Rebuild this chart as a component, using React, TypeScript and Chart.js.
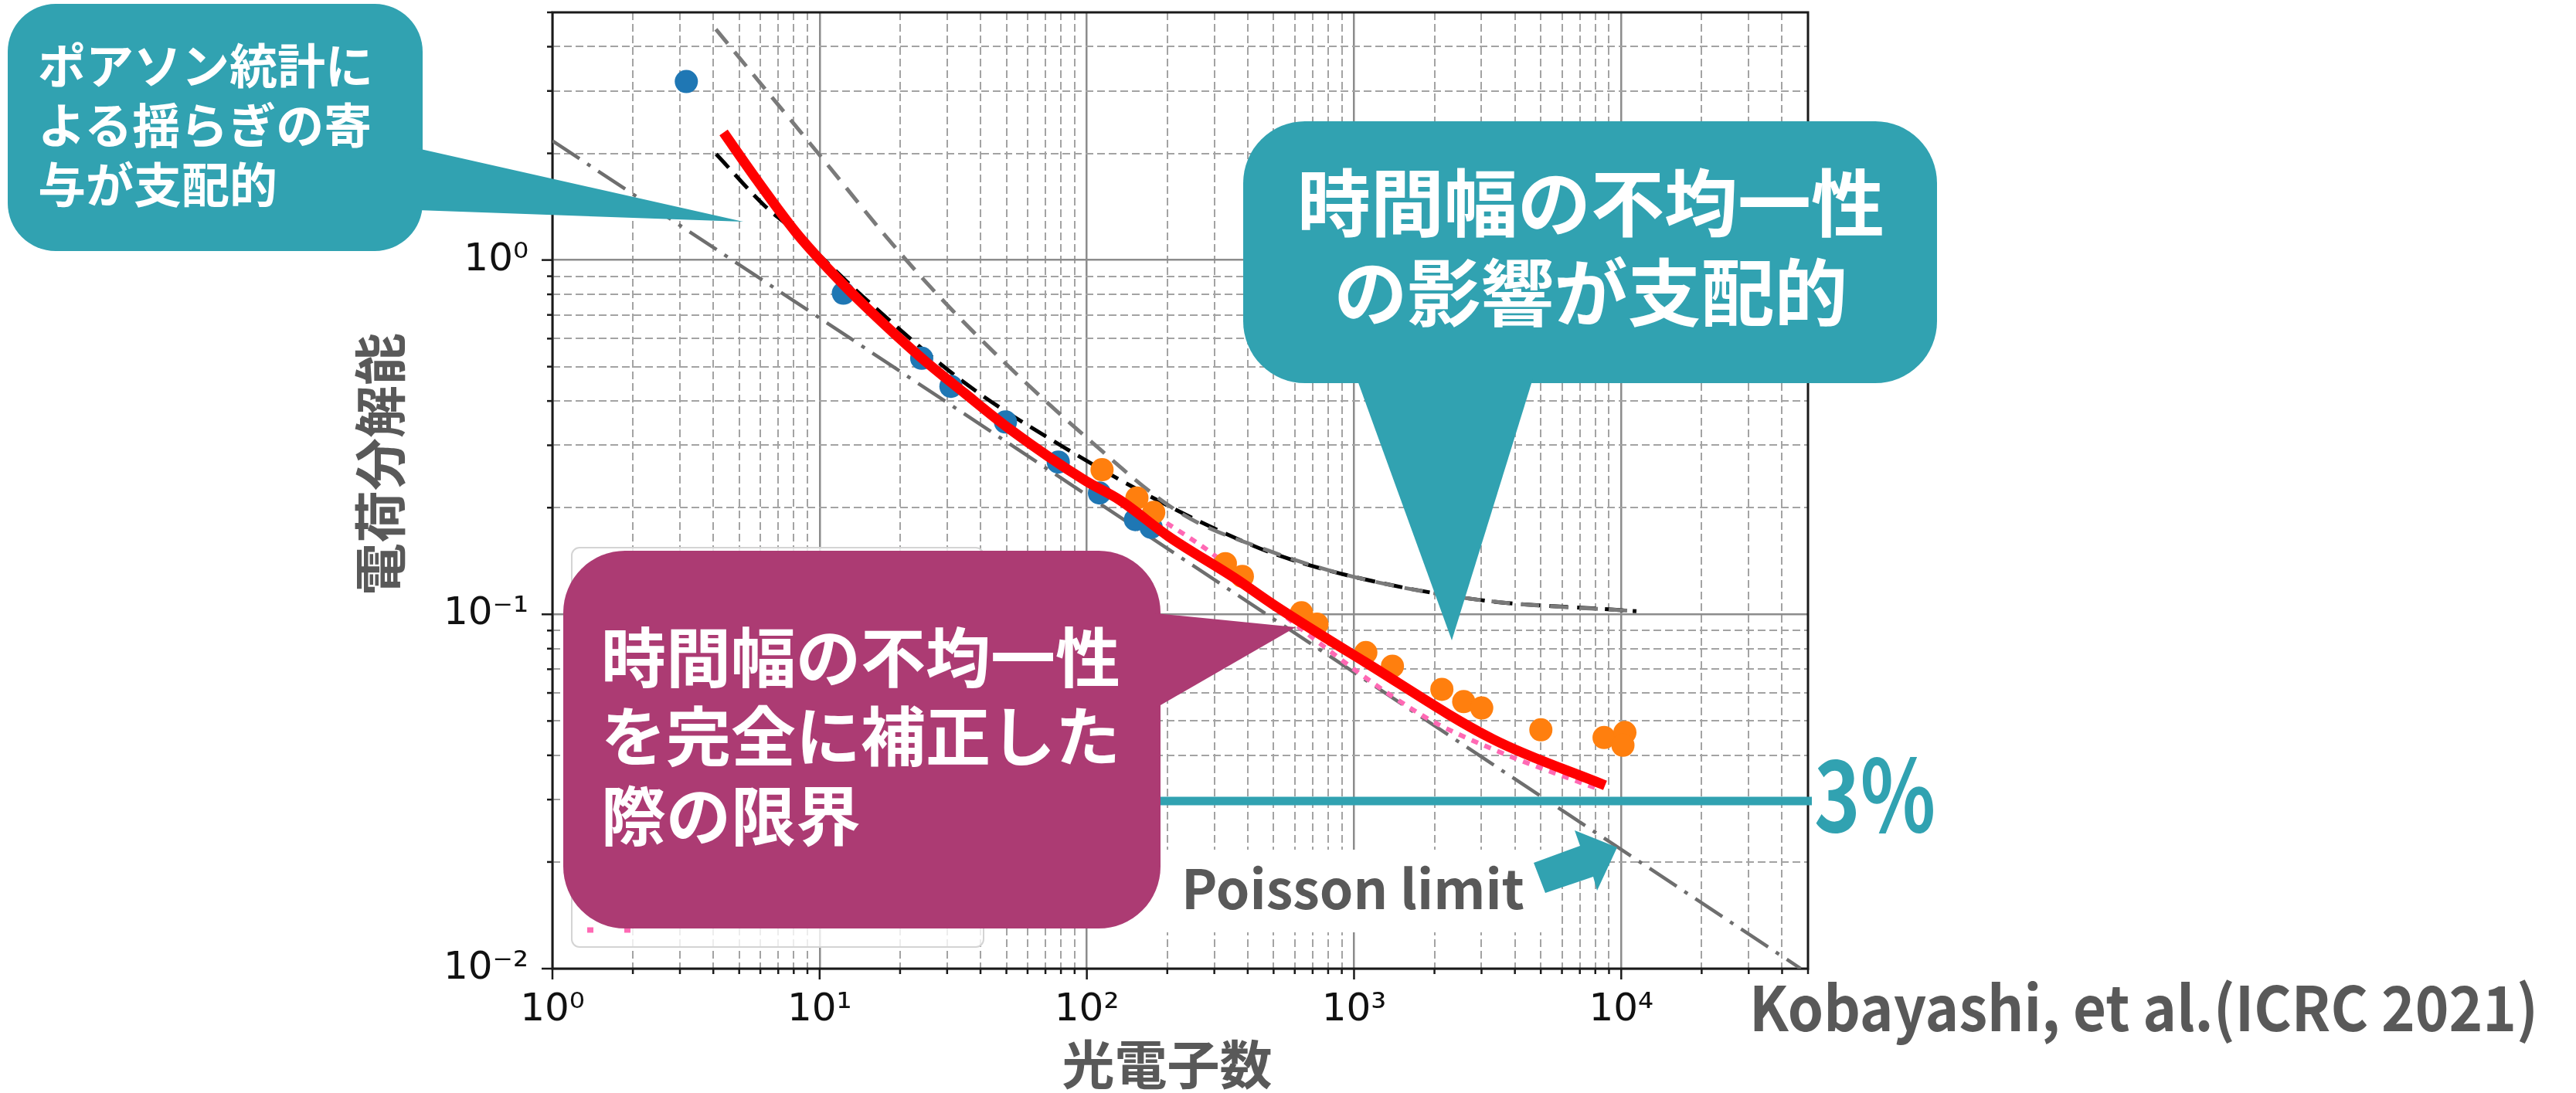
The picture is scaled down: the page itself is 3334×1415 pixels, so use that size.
import React, { useEffect, useRef } from 'react';
import { Chart, registerables } from 'chart.js';

Chart.register(...registerables);

const WIDTH = 3334;
const HEIGHT = 1415;

// ---------- axes ----------
const X_MIN = 1;
const X_MAX = 5e4;
const Y_MIN = 0.01;
const Y_MAX = 5;
const X_DECADES = [1, 10, 100, 1000, 10000];
const X_TICK_LABELS = ['10⁰', '10¹', '10²', '10³', '10⁴'];
const Y_DECADES = [0.01, 0.1, 1];
const Y_TICK_LABELS = ['10⁻²', '10⁻¹', '10⁰'];
const MINOR_STEPS = [1, 2, 3, 4, 5, 6, 7, 8, 9];

const X_TITLE = '光電子数\u2002';
const Y_TITLE = '\u3000電荷分解能';

// ---------- data (photo-electrons N, charge resolution) ----------
const blueN = [3.17, 12.27, 24.1, 31, 49.6, 78.2, 111.5, 152, 174];
const blueRes = [3.19, 0.806, 0.528, 0.44, 0.349, 0.269, 0.22, 0.185, 0.176];

const orangeN = [114, 154, 178, 330, 382, 636, 727, 1107, 1392, 2132, 2573, 3005, 5003, 8625, 10320, 10150];
const orangeRes = [0.256, 0.213, 0.194, 0.139, 0.128, 0.101, 0.0938, 0.078, 0.0714, 0.0614, 0.0567, 0.0544, 0.0472, 0.0449, 0.0464, 0.0427];

const redN = [4.37, 5.83, 8.13, 11.35, 14.8, 24, 35, 51, 99, 133, 202, 361, 504, 1097, 3313, 8700];
const redRes = [2.29, 1.68, 1.2, 0.906, 0.741, 0.53, 0.42, 0.335, 0.238, 0.21, 0.166, 0.126, 0.106, 0.0734, 0.0444, 0.0329];

const blackN = [4.1, 6.24, 7.61, 15.5, 35.2, 89.3, 208, 361, 504, 980, 2978, 9865, 11400];
const blackRes = [1.99, 1.42, 1.25, 0.754, 0.448, 0.285, 0.2, 0.164, 0.148, 0.128, 0.1097, 0.1028, 0.102];

const greyN = [4.09, 9.93, 20.6, 38.4, 100, 222, 481, 980, 2978, 11400];
const greyRes = [4.48, 1.99, 1.02, 0.617, 0.315, 0.194, 0.151, 0.128, 0.1097, 0.102];

const pinkN = [180, 296, 600, 1820, 3313, 8414];
const pinkRes = [0.19, 0.148, 0.094, 0.0516, 0.0416, 0.0319];

const poissonN = [1, 47000];
const poissonRes = [2.17, 0.01];

// ---------- styles ----------
const TEAL = '#31a2b1';
const PURPLE = '#ac3b73';
const GREY_TEXT = '#595959';
const JP = '"Noto Sans CJK JP", "Noto Sans", sans-serif';

const pts = (xs: number[], ys: number[]) => xs.map((x, i) => ({ x, y: ys[i] }));

const isDecade = (v: number | undefined) =>
  v !== undefined && v > 0 && Math.abs(Math.log10(v) - Math.round(Math.log10(v))) < 1e-9;

const buildTicks = (decades: number[], max: number) => {
  const out: number[] = [];
  decades.forEach((d) => {
    MINOR_STEPS.forEach((m) => {
      const v = Number((d * m).toPrecision(6));
      if (v <= max * 1.000001) out.push(v);
    });
  });
  if (!out.some((v) => Math.abs(v - max) < max * 1e-6)) out.push(max);
  return out;
};

const labelFor = (decades: number[], labels: string[]) => (value: number) => {
  const idx = decades.findIndex((d) => Math.abs(d - value) < d * 1e-6);
  return idx >= 0 ? labels[idx] : '';
};

const frameAndTicksPlugin = {
  id: 'frameAndTicks',
  beforeDatasetsDraw(chart: any) {
    const { ctx, chartArea: a, scales } = chart;
    ctx.save();
    ctx.strokeStyle = '#1a1a1a';
    ctx.lineWidth = 3;
    ctx.strokeRect(a.left, a.top, a.right - a.left, a.bottom - a.top);
    ctx.lineWidth = 2.5;
    scales.x.ticks.forEach((t: any) => {
      const px = scales.x.getPixelForValue(t.value);
      const len = isDecade(t.value) ? 14 : 7;
      ctx.beginPath();
      ctx.moveTo(px, a.bottom);
      ctx.lineTo(px, a.bottom + len);
      ctx.stroke();
    });
    scales.y.ticks.forEach((t: any) => {
      const py = scales.y.getPixelForValue(t.value);
      const len = isDecade(t.value) ? 14 : 7;
      ctx.beginPath();
      ctx.moveTo(a.left, py);
      ctx.lineTo(a.left - len, py);
      ctx.stroke();
    });
    ctx.restore();
  },
};

const legendBoxPlugin = {
  id: 'legendBox',
  afterDatasetsDraw(chart: any) {
    const { ctx, chartArea: a } = chart;
    const x = a.left + 25;
    const y = a.top + 693;
    const w = 533;
    const h = 517;
    ctx.save();
    ctx.beginPath();
    ctx.roundRect(x, y, w, h, 10);
    ctx.fillStyle = 'rgba(255,255,255,0.8)';
    ctx.fill();
    ctx.strokeStyle = '#d4d4d4';
    ctx.lineWidth = 2;
    ctx.stroke();
    ctx.strokeStyle = '#ff69b4';
    ctx.lineWidth = 7;
    ctx.setLineDash([8, 40]);
    ctx.beginPath();
    ctx.moveTo(x + 20, y + h - 22);
    ctx.lineTo(x + 90, y + h - 22);
    ctx.stroke();
    ctx.restore();
  },
};

const gridColor = (c: any) => (isDecade(c.tick?.value) ? '#8c8c8c' : '#a3a3a3');
const gridWidth = (c: any) => (isDecade(c.tick?.value) ? 2.5 : 2);
const gridDash = (c: any) => (c.tick && !isDecade(c.tick.value) ? [10, 5] : []);

export default function App() {
  const ref = useRef<HTMLCanvasElement>(null);

  useEffect(() => {
    if (!ref.current) return;
    const xTicks = buildTicks(X_DECADES, X_MAX);
    const yTicks = buildTicks(Y_DECADES, Y_MAX);

    const lineBase = { showLine: true, pointRadius: 0, fill: false, cubicInterpolationMode: 'monotone' as const };

    const chart = new Chart(ref.current, {
      type: 'scatter',
      data: {
        datasets: [
          { ...lineBase, label: 'Poisson limit', data: pts(poissonN, poissonRes), borderColor: '#6e6e6e', borderWidth: 4.5, borderDash: [42, 12, 5, 12], cubicInterpolationMode: 'default', tension: 0, order: 9 },
          { ...lineBase, label: 'pink', data: pts(pinkN, pinkRes), borderColor: '#ff69b4', borderWidth: 6, borderDash: [9, 9], order: 8 },
          { ...lineBase, label: 'black dashed', data: pts(blackN, blackRes), borderColor: '#000000', borderWidth: 5, borderDash: [24, 12], order: 7 },
          { ...lineBase, label: 'grey dashed', data: pts(greyN, greyRes), borderColor: '#7a7a7a', borderWidth: 5, borderDash: [24, 14], order: 6 },
          { label: 'blue', data: pts(blueN, blueRes), backgroundColor: '#1f77b4', borderWidth: 0, pointRadius: 15, order: 4 },
          { label: 'orange', data: pts(orangeN, orangeRes), backgroundColor: '#ff7f0e', borderWidth: 0, pointRadius: 15, order: 3 },
          { ...lineBase, label: 'fit', data: pts(redN, redRes), borderColor: '#ff0000', borderWidth: 13, borderCapStyle: 'butt', order: 0 },
        ] as any,
      },
      options: {
        responsive: false,
        animation: false,
        devicePixelRatio: 1,
        events: [],
        layout: { padding: { left: 0, top: 16, right: WIDTH - 2340, bottom: 0 } },
        plugins: { legend: { display: false }, tooltip: { enabled: false } },
        scales: {
          x: {
            type: 'logarithmic',
            position: 'bottom',
            min: X_MIN,
            max: X_MAX,
            afterBuildTicks: (s: any) => {
              s.ticks = xTicks.map((v) => ({ value: v }));
            },
            afterFit: (s: any) => {
              s.height = HEIGHT - 1254;
              s.paddingLeft = 0;
              s.paddingRight = 0;
            },
            ticks: {
              autoSkip: false,
              maxRotation: 0,
              minRotation: 0,
              padding: 24,
              color: '#111111',
              font: { family: '"DejaVu Sans", sans-serif', size: 50 },
              callback: labelFor(X_DECADES, X_TICK_LABELS) as any,
            },
            grid: { color: gridColor, lineWidth: gridWidth, drawTicks: false },
            border: { display: false, dash: gridDash as any },
            title: {
              display: true,
              text: X_TITLE,
              color: GREY_TEXT,
              font: { family: JP, size: 68, weight: 'bold', lineHeight: 1 },
              padding: { top: 0, bottom: 3 },
            },
          },
          y: {
            type: 'logarithmic',
            position: 'left',
            min: Y_MIN,
            max: Y_MAX,
            afterBuildTicks: (s: any) => {
              s.ticks = yTicks.map((v) => ({ value: v }));
            },
            afterFit: (s: any) => {
              s.width = 715;
              s.paddingTop = 0;
              s.paddingBottom = 0;
            },
            ticks: {
              autoSkip: false,
              padding: 31,
              color: '#111111',
              font: { family: '"DejaVu Sans", sans-serif', size: 50 },
              callback: labelFor(Y_DECADES, Y_TICK_LABELS) as any,
            },
            grid: { color: gridColor, lineWidth: gridWidth, drawTicks: false },
            border: { display: false, dash: gridDash as any },
            title: {
              display: true,
              text: Y_TITLE,
              color: GREY_TEXT,
              font: { family: JP, size: 68, weight: 'bold', lineHeight: 1 },
              padding: { top: 458, bottom: 0 },
            },
          },
        },
      },
      plugins: [frameAndTicksPlugin, legendBoxPlugin],
    });
    return () => chart.destroy();
  }, []);

  return (
    <div style={{ position: 'absolute', left: 0, top: 0, width: WIDTH, height: HEIGHT, background: '#ffffff', overflow: 'hidden' }}>
      <canvas ref={ref} width={WIDTH} height={HEIGHT} style={{ position: 'absolute', left: 0, top: 0, width: WIDTH, height: HEIGHT, display: 'block' }} />
      <svg width={WIDTH} height={HEIGHT} style={{ position: 'absolute', left: 0, top: 0, pointerEvents: 'none' }}>
        {/* 3% reference line */}
        <line x1={1495} y1={1037} x2={2345} y2={1037} stroke={TEAL} strokeWidth={11} />
        <text x={2348} y={1077} fontSize={128} fontWeight={700} fill={TEAL} fontFamily={JP} textLength={157} lengthAdjust="spacingAndGlyphs">3%</text>

        {/* callout: Poisson dominated */}
        <rect x={10} y={5} width={537} height={320} rx={62} fill={TEAL} />
        <polygon points="540,192 962,287 540,272" fill={TEAL} />
        <text fontFamily={JP} fontWeight={700} fontSize={62} fill="#ffffff">
          <tspan x={49} y={109}>ポアソン統計に</tspan>
          <tspan x={49} y={186}>よる揺らぎの寄</tspan>
          <tspan x={49} y={263}>与が支配的</tspan>
        </text>

        {/* callout: time-width non-uniformity dominated */}
        <rect x={1609} y={157} width={898} height={339} rx={80} fill={TEAL} />
        <polygon points="1756,490 1984,490 1879,829" fill={TEAL} />
        <text fontFamily={JP} fontWeight={700} fontSize={95} fill="#ffffff" textAnchor="middle">
          <tspan x={2059} y={299}>時間幅の不均一性</tspan>
          <tspan x={2059} y={415}>の影響が支配的</tspan>
        </text>

        {/* callout: limit after full correction */}
        <rect x={729} y={713} width={773} height={489} rx={80} fill={PURPLE} />
        <polygon points="1495,794 1677,812 1495,917" fill={PURPLE} />
        <text fontFamily={JP} fontWeight={700} fontSize={84} fill="#ffffff">
          <tspan x={778} y={883}>時間幅の不均一性</tspan>
          <tspan x={778} y={985}>を完全に補正した</tspan>
          <tspan x={778} y={1088}>際の限界</tspan>
        </text>

        {/* Poisson limit label */}
        <rect x={1502} y={1100} width={500} height={107} fill="#ffffff" />
        <text x={1529} y={1177} fontFamily={JP} fontWeight={700} fontSize={70} fill={GREY_TEXT} textLength={444} lengthAdjust="spacingAndGlyphs">Poisson limit</text>
        <polygon points="1985,1117 2045,1095 2038,1075 2093,1097 2067,1153 2062,1135 2000,1156" fill={TEAL} />

        {/* citation */}
        <text x={2264} y={1335} fontFamily={JP} fontWeight={700} fontSize={80} fill={GREY_TEXT} textLength={1021} lengthAdjust="spacingAndGlyphs">Kobayashi, et al.(ICRC 2021)</text>
      </svg>
    </div>
  );
}
